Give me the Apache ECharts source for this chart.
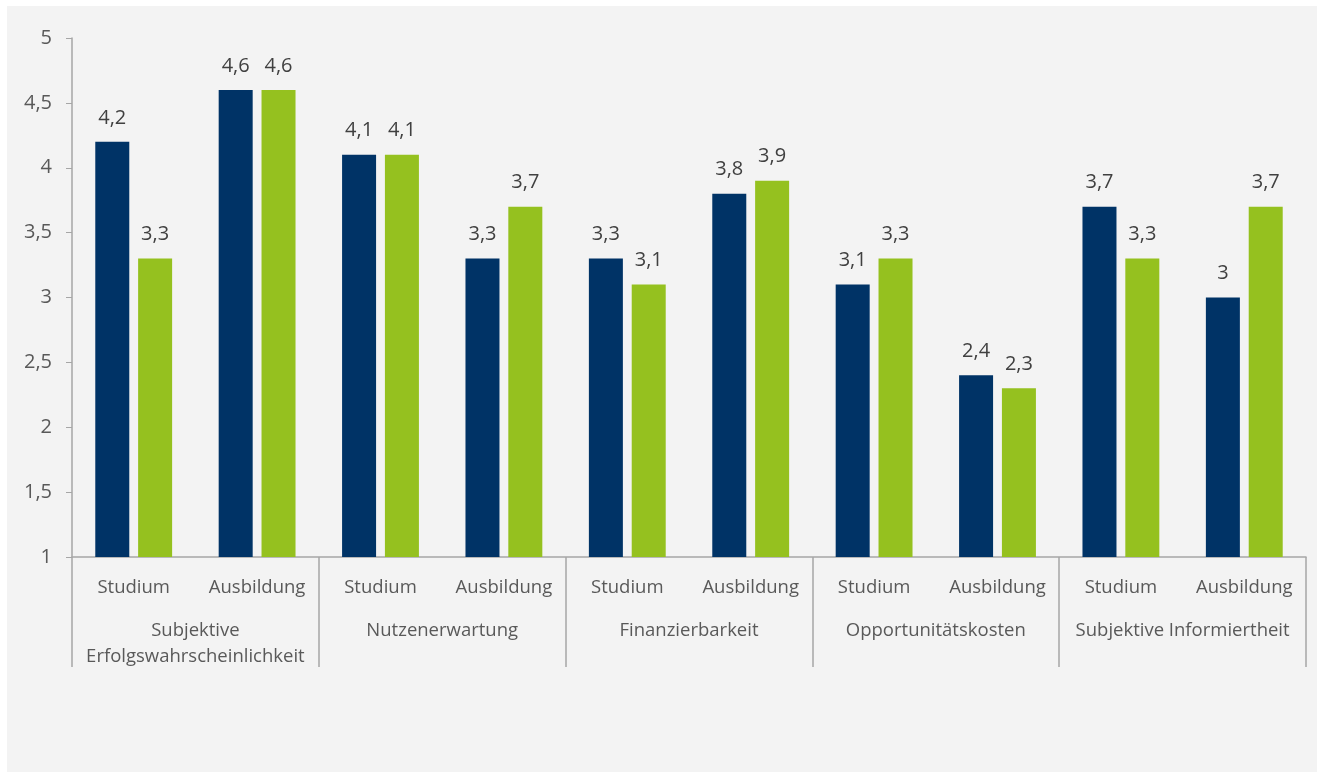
<!DOCTYPE html>
<html>
<head>
<meta charset="utf-8">
<script src="https://cdn.jsdelivr.net/npm/echarts@6/dist/echarts.min.js"></script>
<style>
html,body{margin:0;padding:0;background:#fff;}
#bg{position:absolute;left:7px;top:6px;width:1310px;height:766px;background:#f3f3f3;}
#chart{position:absolute;left:0;top:0;width:1319px;height:772px;}
</style>
</head>
<body>
<div id="bg"></div>
<div id="chart"></div>
<script>
const categories = ['Studium','Ausbildung','Studium','Ausbildung','Studium','Ausbildung','Studium','Ausbildung','Studium','Ausbildung'];
const groups = ['Subjektive\nErfolgswahrscheinlichkeit','Nutzenerwartung','Finanzierbarkeit','Opportunitätskosten','Subjektive Informiertheit'];
const seriesBlue = [4.2, 4.6, 4.1, 3.3, 3.3, 3.8, 3.1, 2.4, 3.7, 3.0];
const seriesGreen = [3.3, 4.6, 4.1, 3.7, 3.1, 3.9, 3.3, 2.3, 3.3, 3.7];
const yTicks = {min: 1, max: 5, interval: 0.5};

const fontFam = '"Open Sans", "Noto Sans", sans-serif';
const chart = echarts.init(document.getElementById('chart'), null, {renderer: 'canvas'});
const fmt = v => String(v).replace('.', ',');
const lbl = {
  show: true, position: 'top', distance: 14,
  color: '#404040', fontSize: 20, fontFamily: fontFam,
  formatter: p => fmt(p.value)
};
chart.setOption({
  backgroundColor: 'transparent',
  animation: false,
  grid: {left: 72, right: 13, top: 38, bottom: 215, containLabel: false},
  xAxis: [
    {
      type: 'category', data: categories, position: 'bottom',
      axisLine: {show: true, lineStyle: {color: '#a6a6a6', width: 1.5}},
      axisTick: {show: false},
      axisLabel: {color: '#595959', fontSize: 18.5, fontFamily: fontFam, margin: 21, interval: 0}
    },
    {
      type: 'category', data: groups, position: 'bottom',
      axisLine: {show: false},
      axisTick: {show: true, length: 110, lineStyle: {color: '#a6a6a6', width: 1.5}},
      axisLabel: {color: '#595959', fontSize: 18.5, fontFamily: fontFam, margin: 61, interval: 0, lineHeight: 26}
    }
  ],
  yAxis: {
    type: 'value', min: yTicks.min, max: yTicks.max, interval: yTicks.interval,
    axisLine: {show: true, lineStyle: {color: '#a6a6a6', width: 1.5}},
    axisTick: {show: true, length: 6, lineStyle: {color: '#a6a6a6'}},
    splitLine: {show: false},
    axisLabel: {color: '#595959', fontSize: 20, fontFamily: fontFam, margin: 20, formatter: v => fmt(v)}
  },
  series: [
    {type: 'bar', name: 'Blau', data: seriesBlue, xAxisIndex: 0, barWidth: 34, barGap: '26%',
     itemStyle: {color: '#003366'}, label: lbl},
    {type: 'bar', name: 'Grün', data: seriesGreen, xAxisIndex: 0, barWidth: 34, barGap: '26%',
     itemStyle: {color: '#95c11f'}, label: lbl}
  ]
});
</script>
</body>
</html>
